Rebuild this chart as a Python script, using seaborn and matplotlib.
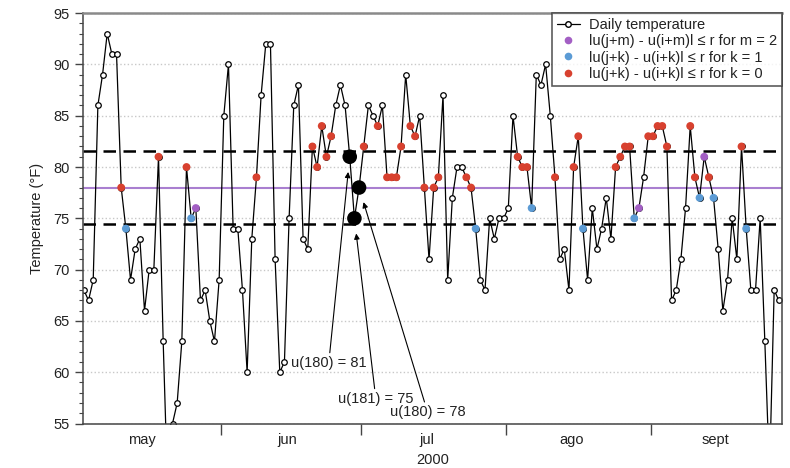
import numpy as np
import pandas as pd
import matplotlib
matplotlib.use('Agg')
import matplotlib.pyplot as plt
import matplotlib.dates as mdates
from matplotlib.lines import Line2D
from matplotlib.ticker import MultipleLocator
import seaborn as sns

# daily temperatures (F), 2 may -> 28 sept 2000
temps = [68, 67, 69, 86, 89, 93, 91, 91, 78, 74,
         69, 72, 73, 66, 70, 70, 81, 63, 48, 55,
         57, 63, 80, 75, 76, 67, 68, 65, 63, 69,
         85, 90, 74, 74, 68, 60, 73, 79, 87, 92,
         92, 71, 60, 61, 75, 86, 88, 73, 72, 82,
         80, 84, 81, 83, 86, 88, 86, 81, 75, 78,
         82, 86, 85, 84, 86, 79, 79, 79, 82, 89,
         84, 83, 85, 78, 71, 78, 79, 87, 69, 77,
         80, 80, 79, 78, 74, 69, 68, 75, 73, 75,
         75, 76, 85, 81, 80, 80, 76, 89, 88, 90,
         85, 79, 71, 72, 68, 80, 83, 74, 69, 76,
         72, 74, 77, 73, 80, 81, 82, 82, 75, 76,
         79, 83, 83, 84, 84, 82, 67, 68, 71, 76,
         84, 79, 77, 81, 79, 77, 72, 66, 69, 75,
         71, 82, 74, 68, 68, 75, 63, 50, 68, 67]
start_day = '2000-05-02'

# matched points (index into temps)
red_idx = [8, 16, 22, 37, 49, 50, 51, 52, 53, 60, 63, 65, 66, 67, 68, 70, 71, 73,
           75, 76, 82, 83, 93, 94, 95, 101, 105, 106, 114, 115, 116, 117, 121, 122,
           123, 124, 125, 130, 131, 134, 141]
blue_idx = [9, 23, 84, 96, 107, 118, 132, 135, 142]
purple_idx = [24, 119, 133]
big_idx = [57, 58, 59]

u_mean = 78
r = 3.6
month_names = ['may', 'jun', 'jul', 'ago', 'sept']
legend_labels = ['Daily temperature',
                 'lu(j+m) - u(i+m)l \u2264 r for m = 2',
                 'lu(j+k) - u(i+k)l \u2264 r for k = 1',
                 'lu(j+k) - u(i+k)l \u2264 r for k = 0']
notes = ['u(180) = 81', 'u(181) = 75', 'u(180) = 78']

RED = '#d8412f'
BLUE = '#5b9bd5'
PURPLE = '#a35fc4'

dates = pd.date_range(start_day + ' 12:00', periods=len(temps), freq='D')
df = pd.DataFrame({'date': dates, 'temp': temps})

sns.set_style('ticks')
plt.rcParams['font.family'] = ['Liberation Sans', 'DejaVu Sans']
plt.rcParams['font.size'] = 10

fig, ax = plt.subplots(figsize=(7.9, 4.68), dpi=100)
fig.subplots_adjust(left=0.105, right=0.99, top=0.972, bottom=0.095)

# reference lines
ax.axhline(u_mean, color='#a97fd0', lw=1.5, zorder=1.5)
ax.axhline(u_mean + r, color='black', lw=1.8, ls=(0, (5, 3)), zorder=1.5)
ax.axhline(u_mean - r, color='black', lw=1.8, ls=(0, (5, 3)), zorder=1.5)

sns.lineplot(data=df, x='date', y='temp', ax=ax, color='black', lw=0.9,
             marker='o', markersize=4, markerfacecolor='white',
             markeredgecolor='black', markeredgewidth=0.9, zorder=2)

for idx, col in [(red_idx, RED), (blue_idx, BLUE), (purple_idx, PURPLE)]:
    sub = df.iloc[idx]
    sns.scatterplot(data=sub, x='date', y='temp', ax=ax, color=col, s=32,
                    edgecolor='none', zorder=3)
sns.scatterplot(data=df.iloc[big_idx], x='date', y='temp', ax=ax, color='black',
                s=110, edgecolor='none', zorder=4)

# annotations
text_pos = [(52.5, 60.9), (62.6, 57.4), (73.7, 56.1)]
for note, i, (dx, ty) in zip(notes, big_idx, text_pos):
    tx = mdates.date2num(dates[0]) + dx
    ax.annotate(note, xy=(mdates.date2num(dates[i]), temps[i]), xytext=(tx, ty),
                ha='center', va='center', fontsize=10.5, color='#222222',
                arrowprops=dict(arrowstyle='-|>', color='black', lw=0.8,
                                mutation_scale=8, shrinkA=0, shrinkB=11))

# axes
ax.set_ylim(55, 95)
ax.set_xlim(mdates.date2num(dates[0]) - 0.2, mdates.date2num(dates[-1]) + 0.7)
ax.set_yticks(np.arange(55, 96, 5))
ax.yaxis.set_minor_locator(MultipleLocator(1))
ax.yaxis.grid(True, ls=':', color='#c8c8c8', lw=1)
ax.set_axisbelow(True)

ax.xaxis.set_major_locator(mdates.MonthLocator())
ax.xaxis.set_major_formatter(plt.NullFormatter())
mids = [pd.Timestamp(f'2000-{m:02d}-15') for m in range(5, 10)]
ax.set_xticks(mdates.date2num(mids), labels=month_names, minor=True)

ax.tick_params(axis='x', which='major', length=8, width=1, color='#444444')
ax.tick_params(axis='x', which='minor', length=0, pad=7, labelsize=10.5, labelcolor='#222222')
ax.tick_params(axis='y', which='major', length=6, width=1, color='#444444',
               labelsize=10.5, labelcolor='#222222')
ax.tick_params(axis='y', which='minor', length=3, width=0.8, color='#444444')

ax.set_xlabel('2000', fontsize=10.5, color='#222222', labelpad=4)
ax.set_ylabel('Temperature (\u00b0F)', fontsize=10.5, color='#222222', labelpad=7)

for side in ['left', 'bottom', 'right']:
    ax.spines[side].set_color('#444444')
    ax.spines[side].set_linewidth(1.1)
ax.spines['top'].set_color('#8a8a8a')
ax.spines['top'].set_linewidth(1.8)

handles = [Line2D([], [], color='black', lw=0.9, marker='o', markersize=4,
                  markerfacecolor='white', markeredgecolor='black'),
           Line2D([], [], ls='none', marker='o', markersize=5.5, color=PURPLE, markeredgewidth=0),
           Line2D([], [], ls='none', marker='o', markersize=5.5, color=BLUE, markeredgewidth=0),
           Line2D([], [], ls='none', marker='o', markersize=5.5, color=RED, markeredgewidth=0)]
leg = ax.legend(handles, legend_labels, loc='upper right', borderaxespad=0,
                frameon=True, fancybox=False, fontsize=10.5, handlelength=1.6,
                handletextpad=0.6, labelspacing=0.15, borderpad=0.35)
leg.get_frame().set_edgecolor('#333333')
leg.get_frame().set_linewidth(1.2)
for t in leg.get_texts():
    t.set_color('#222222')

fig.savefig('out.png', dpi=100)
